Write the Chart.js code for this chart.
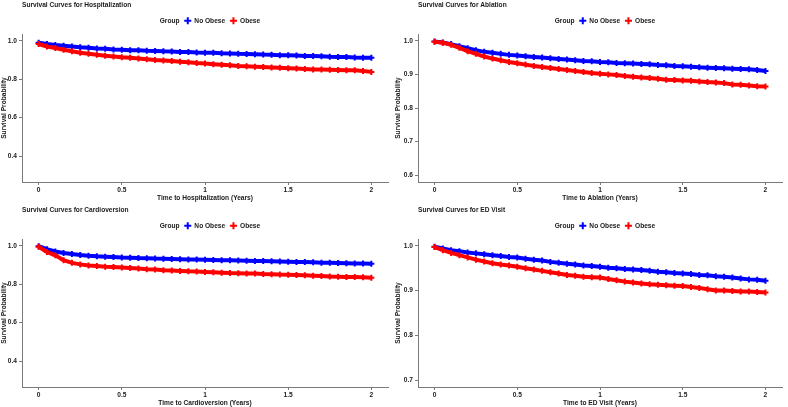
<!DOCTYPE html>
<html>
<head>
<meta charset="utf-8">
<script src="https://cdn.jsdelivr.net/npm/chart.js@4.4.1/dist/chart.umd.min.js"></script>
<style>
  html, body { margin: 0; padding: 0; background: #fff; }
  body { width: 788px; height: 407px; position: relative; overflow: hidden; }
  .panel { position: absolute; width: 394px; height: 202px; }
</style>
</head>
<body>
<div class="panel" style="left:0;top:0"><canvas id="hosp"></canvas></div>
<div class="panel" style="left:394px;top:0"><canvas id="abl"></canvas></div>
<div class="panel" style="left:0;top:205px"><canvas id="cardio"></canvas></div>
<div class="panel" style="left:394px;top:205px"><canvas id="ed"></canvas></div>
<script>
// time points (years)
const times = [0, 0.05, 0.1, 0.15, 0.2, 0.25, 0.3, 0.35, 0.4, 0.45, 0.5, 0.55, 0.6, 0.65, 0.7, 0.75, 0.8, 0.85, 0.9, 0.95,
  1, 1.05, 1.1, 1.15, 1.2, 1.25, 1.3, 1.35, 1.4, 1.45, 1.5, 1.55, 1.6, 1.65, 1.7, 1.75, 1.8, 1.85, 1.9, 1.95, 2];

const groups = ['No Obese', 'Obese'];
const xTicks = [0, 0.5, 1, 1.5, 2];

// Hospitalization
const hospNoObese = [0.990, 0.983, 0.978, 0.974, 0.970, 0.966, 0.963, 0.960, 0.958, 0.955, 0.953, 0.951, 0.950, 0.948, 0.947, 0.945, 0.944, 0.942, 0.941, 0.939,
  0.938, 0.937, 0.935, 0.934, 0.932, 0.931, 0.930, 0.928, 0.927, 0.925, 0.924, 0.923, 0.921, 0.920, 0.919, 0.917, 0.916, 0.915, 0.913, 0.912, 0.911];
const hospObese = [0.983, 0.970, 0.962, 0.953, 0.945, 0.938, 0.932, 0.927, 0.922, 0.918, 0.914, 0.911, 0.908, 0.904, 0.900, 0.897, 0.894, 0.891, 0.888, 0.884,
  0.881, 0.878, 0.875, 0.872, 0.869, 0.867, 0.865, 0.863, 0.861, 0.859, 0.857, 0.855, 0.853, 0.851, 0.850, 0.849, 0.848, 0.847, 0.846, 0.843, 0.838];
const hospTicks = [0.4, 0.6, 0.8, 1.0];

// Ablation
const ablNoObese = [0.998, 0.995, 0.990, 0.984, 0.978, 0.972, 0.967, 0.964, 0.961, 0.958, 0.956, 0.954, 0.952, 0.950, 0.948, 0.946, 0.944, 0.942, 0.940, 0.939,
  0.937, 0.936, 0.934, 0.933, 0.932, 0.931, 0.930, 0.928, 0.927, 0.925, 0.924, 0.923, 0.921, 0.920, 0.919, 0.918, 0.917, 0.916, 0.915, 0.913, 0.910];
const ablObese = [0.997, 0.994, 0.988, 0.979, 0.969, 0.961, 0.953, 0.947, 0.942, 0.937, 0.933, 0.929, 0.925, 0.922, 0.919, 0.916, 0.913, 0.910, 0.907, 0.904,
  0.902, 0.900, 0.898, 0.895, 0.893, 0.891, 0.889, 0.887, 0.884, 0.883, 0.882, 0.881, 0.879, 0.877, 0.876, 0.874, 0.870, 0.869, 0.867, 0.865, 0.864];
const ablTicks = [0.6, 0.7, 0.8, 0.9, 1.0];

// Cardioversion
const cardioNoObese = [0.998, 0.982, 0.970, 0.962, 0.957, 0.952, 0.948, 0.945, 0.943, 0.941, 0.939, 0.938, 0.936, 0.935, 0.933, 0.932, 0.931, 0.930, 0.929, 0.928,
  0.927, 0.926, 0.925, 0.924, 0.923, 0.922, 0.921, 0.920, 0.919, 0.918, 0.917, 0.916, 0.915, 0.914, 0.912, 0.911, 0.910, 0.909, 0.908, 0.907, 0.906];
const cardioObese = [0.995, 0.968, 0.950, 0.925, 0.911, 0.903, 0.897, 0.894, 0.891, 0.889, 0.887, 0.884, 0.881, 0.878, 0.876, 0.873, 0.871, 0.869, 0.867, 0.866,
  0.864, 0.862, 0.860, 0.858, 0.857, 0.856, 0.855, 0.853, 0.852, 0.850, 0.849, 0.848, 0.846, 0.844, 0.842, 0.840, 0.839, 0.838, 0.837, 0.836, 0.833];
const cardioTicks = [0.4, 0.6, 0.8, 1.0];

// ED visit
const edNoObese = [0.998, 0.994, 0.990, 0.988, 0.985, 0.983, 0.981, 0.979, 0.977, 0.975, 0.974, 0.971, 0.969, 0.967, 0.964, 0.962, 0.960, 0.958, 0.956, 0.955,
  0.953, 0.951, 0.950, 0.948, 0.947, 0.946, 0.944, 0.942, 0.941, 0.939, 0.938, 0.937, 0.935, 0.934, 0.932, 0.931, 0.929, 0.927, 0.925, 0.924, 0.922];
const edObese = [0.997, 0.990, 0.984, 0.979, 0.974, 0.969, 0.965, 0.961, 0.958, 0.956, 0.953, 0.950, 0.947, 0.944, 0.941, 0.938, 0.935, 0.933, 0.931, 0.930,
  0.929, 0.926, 0.923, 0.920, 0.918, 0.916, 0.914, 0.913, 0.912, 0.911, 0.910, 0.908, 0.906, 0.903, 0.900, 0.900, 0.899, 0.898, 0.898, 0.897, 0.896];
const edTicks = [0.7, 0.8, 0.9, 1.0];

const FONT = { family: "'Liberation Sans', Arial, sans-serif", size: 6.6, weight: 'bold' };
const TEXT = '#1a1a1a';
const AXIS = '#7a7a7a';

function toPoints(vals) {
  return times.map((t, i) => ({ x: t, y: vals[i] }));
}

function series(label, vals, color, order) {
  return {
    label,
    data: toPoints(vals),
    borderColor: color,
    backgroundColor: color,
    borderWidth: 4,
    pointStyle: 'cross',
    pointRadius: 3,
    pointBorderWidth: 2,
    pointBorderColor: color,
    tension: 0,
    order,
  };
}

function makePanel(id, opts) {
  const el = document.getElementById(id);
  new Chart(el, {
    type: 'line',
    data: {
      datasets: [
        series(groups[0], opts.noObese, '#0000ff', 2),
        series(groups[1], opts.obese, '#ff0000', 1),
      ],
    },
    options: {
      responsive: true,
      maintainAspectRatio: false,
      animation: false,
      layout: { padding: { left: 0, right: opts.padRight, top: 0, bottom: 0 } },
      plugins: {
        tooltip: { enabled: false },
        title: {
          display: true,
          text: opts.title,
          align: 'start',
          fullSize: false,
          color: TEXT,
          font: FONT,
          padding: { top: 1.5, bottom: 3 },
        },
        legend: {
          position: 'top',
          fullSize: false,
          labels: {
            usePointStyle: true,
            boxHeight: 5,
            padding: 5,
            color: TEXT,
            font: FONT,
            generateLabels(chart) {
              const items = Chart.defaults.plugins.legend.labels.generateLabels(chart)
                .sort((a, b) => a.datasetIndex - b.datasetIndex);
              items.forEach((it) => { it.lineWidth = 2; });
              return [{
                text: 'Group', fillStyle: 'rgba(0,0,0,0)', strokeStyle: 'rgba(0,0,0,0)',
                lineWidth: 0, pointStyle: 'line', hidden: false, fontColor: TEXT,
              }].concat(items);
            },
          },
        },
      },
      scales: {
        x: {
          type: 'linear',
          min: -0.1,
          max: 2.1,
          afterBuildTicks(scale) { scale.ticks = xTicks.map((v) => ({ value: v })); },
          afterFit(scale) { scale.height = 20; },
          ticks: {
            color: TEXT, font: FONT, padding: 1, maxRotation: 0,
            callback: (v) => String(v),
          },
          grid: { display: true, drawOnChartArea: false, tickLength: 3, color: AXIS },
          border: { display: true, color: AXIS, width: 1 },
          title: { display: true, text: opts.xTitle, color: TEXT, font: FONT, padding: 0 },
        },
        y: {
          min: opts.yMin,
          max: opts.yMax,
          afterBuildTicks(scale) { scale.ticks = opts.yTicks.map((v) => ({ value: v })); },
          afterFit(scale) { scale.width = opts.axisLeft; },
          ticks: {
            color: TEXT, font: FONT, padding: 2,
            callback: (v) => v.toFixed(1),
          },
          grid: { display: true, drawOnChartArea: false, tickLength: 3, color: AXIS },
          border: { display: true, color: AXIS, width: 1 },
          title: { display: true, text: 'Survival Probability', color: TEXT, font: FONT, padding: 0 },
        },
      },
    },
  });
}

makePanel('hosp', {
  title: 'Survival Curves for Hospitalization', xTitle: 'Time to Hospitalization (Years)',
  noObese: hospNoObese, obese: hospObese, yTicks: hospTicks, yMin: 0.265, yMax: 1.035,
  axisLeft: 22, padRight: 3,
});
makePanel('abl', {
  title: 'Survival Curves for Ablation', xTitle: 'Time to Ablation (Years)',
  noObese: ablNoObese, obese: ablObese, yTicks: ablTicks, yMin: 0.58, yMax: 1.02,
  axisLeft: 24, padRight: 0,
});
makePanel('cardio', {
  title: 'Survival Curves for Cardioversion', xTitle: 'Time to Cardioversion (Years)',
  noObese: cardioNoObese, obese: cardioObese, yTicks: cardioTicks, yMin: 0.265, yMax: 1.035,
  axisLeft: 22, padRight: 3,
});
makePanel('ed', {
  title: 'Survival Curves for ED Visit', xTitle: 'Time to ED Visit (Years)',
  noObese: edNoObese, obese: edObese, yTicks: edTicks, yMin: 0.685, yMax: 1.015,
  axisLeft: 24, padRight: 0,
});
</script>
</body>
</html>
